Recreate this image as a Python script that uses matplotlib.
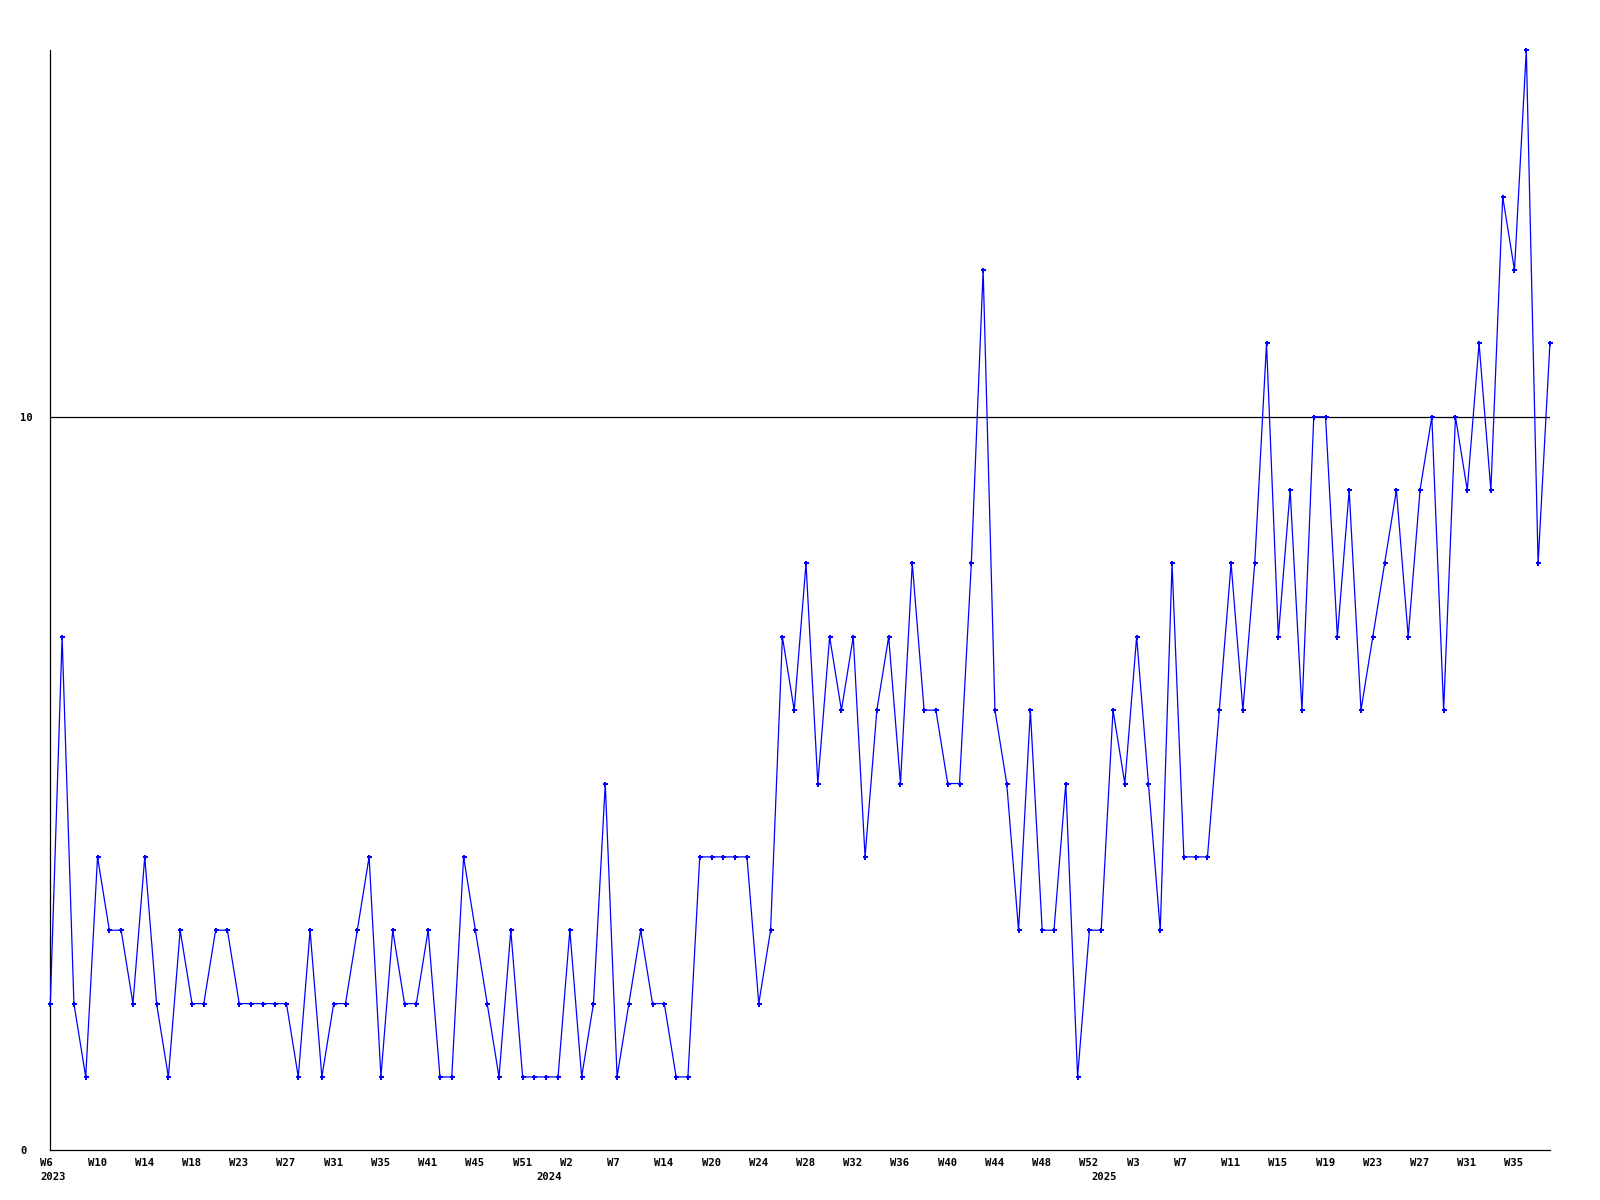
import matplotlib
matplotlib.use("Agg")
import matplotlib.pyplot as plt
from matplotlib.transforms import offset_copy

# ---- data ----
values = [2, 7, 2, 1, 4, 3, 3, 2, 4, 2, 1, 3, 2, 2, 3, 3, 2, 2, 2, 2,
          2, 1, 3, 1, 2, 2, 3, 4, 1, 3, 2, 2, 3, 1, 1, 4, 3, 2, 1, 3,
          1, 1, 1, 1, 3, 1, 2, 5, 1, 2, 3, 2, 2, 1, 1, 4, 4, 4, 4, 4,
          2, 3, 7, 6, 8, 5, 7, 6, 7, 4, 6, 7, 5, 8, 6, 6, 5, 5, 8, 12,
          6, 5, 3, 6, 3, 3, 5, 1, 3, 3, 6, 5, 7, 5, 3, 8, 4, 4, 4, 6,
          8, 6, 8, 11, 7, 9, 6, 10, 10, 7, 9, 6, 7, 8, 9, 7, 9, 10, 6, 10,
          9, 11, 9, 13, 12, 15, 8, 11]

week_labels = ["W6", "W10", "W14", "W18", "W23", "W27", "W31", "W35", "W41", "W45",
               "W51", "W2", "W7", "W14", "W20", "W24", "W28", "W32", "W36", "W40",
               "W44", "W48", "W52", "W3", "W7", "W11", "W15", "W19", "W23", "W27",
               "W31", "W35"]
week_label_step = 4

year_labels = ["2023", "2024", "2025"]
year_label_index = [0, 42, 89]

y_ticks = [0, 10]
y_max = 15

# ---- figure ----
W, H = 1600, 1200
fig = plt.figure(figsize=(16, 12), dpi=100)
x0, x1 = 50.3, 50.3 + 11.808 * (len(values) - 1)
y_bot, y_top = 1150.3, 50.0
ax = fig.add_axes([x0 / W, 1 - y_bot / H, (x1 - x0) / W, (y_bot - y_top) / H])

x = list(range(len(values)))
ax.plot(x, values, color="#0000ff", lw=0.9, marker="P", markersize=3.6,
        markeredgewidth=0, clip_on=False, zorder=3)

ax.axhline(10, color="black", lw=0.9, zorder=2)

ax.set_xlim(0, len(values) - 1)
ax.set_ylim(0, y_max)

for s in ("top", "right"):
    ax.spines[s].set_visible(False)
for s in ("left", "bottom"):
    ax.spines[s].set_color("black")
    ax.spines[s].set_linewidth(0.9)

font = dict(family="DejaVu Sans Mono", fontsize=7.6, fontweight="bold")

# y ticks
ax.set_yticks(y_ticks)
ax.set_yticklabels([str(v) for v in y_ticks], **font)
ax.tick_params(axis="y", length=0, pad=21.8)
for lbl in ax.get_yticklabels():
    lbl.set_horizontalalignment("left")

# x ticks: week labels, left-aligned slightly left of their position
tick_pos = [i * week_label_step for i in range(len(week_labels))]
ax.set_xticks(tick_pos)
ax.set_xticklabels([])
ax.tick_params(axis="x", length=0)

base = ax.get_xaxis_transform()
wk_tr = offset_copy(base, fig=fig, x=-10, y=-12.3, units="dots")
for p, lab in zip(tick_pos, week_labels):
    ax.text(p, 0, lab, transform=wk_tr, ha="left", va="center", **font)

yr_tr = offset_copy(base, fig=fig, x=-10, y=-27.0, units="dots")
for p, lab in zip(year_label_index, year_labels):
    ax.text(p, 0, lab, transform=yr_tr, ha="left", va="center", **font)

fig.savefig("out.png", dpi=100, facecolor="white")
